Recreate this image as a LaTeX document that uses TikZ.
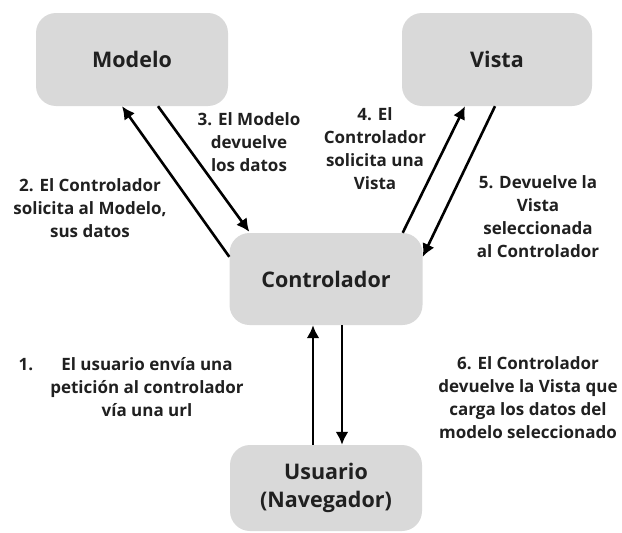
\documentclass[tikz,border=0pt]{standalone}
\usepackage{fontspec}
\setmainfont{Open Sans}
\usetikzlibrary{arrows.meta}
\definecolor{boxgray}{HTML}{D9D9D9}
\definecolor{txt}{HTML}{202020}
\begin{document}
\begin{tikzpicture}[x=1pt,y=-1pt,
  box/.style={fill=boxgray, rounded corners=20pt, inner sep=0pt, align=center,
    font=\fontsize{21.5}{28}\selectfont\bfseries, text=txt},
  lbl/.style={align=center, font=\fontsize{17}{23}\selectfont\bfseries, text=txt, inner sep=0pt},
  arr/.style={line width=2.6pt, -{Latex[length=13pt,width=13pt]}}]
\useasboundingbox (0,0) rectangle (622,533);
\node[box, minimum width=192pt, minimum height=93pt] (modelo) at (132,59.5) {Modelo};
\node[box, minimum width=190pt, minimum height=93pt] (vista) at (497,59.5) {Vista};
\node[box, minimum width=193pt, minimum height=92pt] (ctrl) at (326,279) {Controlador};
\node[box, minimum width=192pt, minimum height=86pt] (usr) at (326,488) {Usuario\\(Navegador)};

\draw[arr] ([yshift=-24pt]ctrl.north west) -- ([xshift=-10pt]modelo.south);
\draw[arr] ([xshift=26pt]modelo.south) -- ([xshift=20pt,yshift=1pt]ctrl.north west);
\draw[arr] ([xshift=-20pt]ctrl.north east) -- ([xshift=-32pt]vista.south);
\draw[arr] ([xshift=-2pt]vista.south) -- ([yshift=-24pt]ctrl.north east);
\draw[arr] ([xshift=-13pt]usr.north) -- ([xshift=-13pt]ctrl.south);
\draw[arr] ([xshift=16pt]ctrl.south) -- ([xshift=16pt]usr.north);

\node[lbl] (l2) at (90,208) {2. El Controlador\\solicita al Modelo,\\sus datos};
\node[lbl] (l3) at (249,142) {3. El Modelo\\devuelve\\los datos};
\node[lbl] (l4) at (375,149) {4. El\\Controlador\\solicita una\\Vista};
\node[lbl] (l5) at (538,217) {5. Devuelve la\\Vista\\seleccionada\\al Controlador};
\node[lbl] (l1) at (147,387) {\llap{1.\hspace{28pt}}El usuario envía una\\petición al controlador\\vía una url};
\node[lbl] (l6) at (528,398) {6. El Controlador\\devuelve la Vista que\\carga los datos del\\modelo seleccionado};
\end{tikzpicture}
\end{document}
